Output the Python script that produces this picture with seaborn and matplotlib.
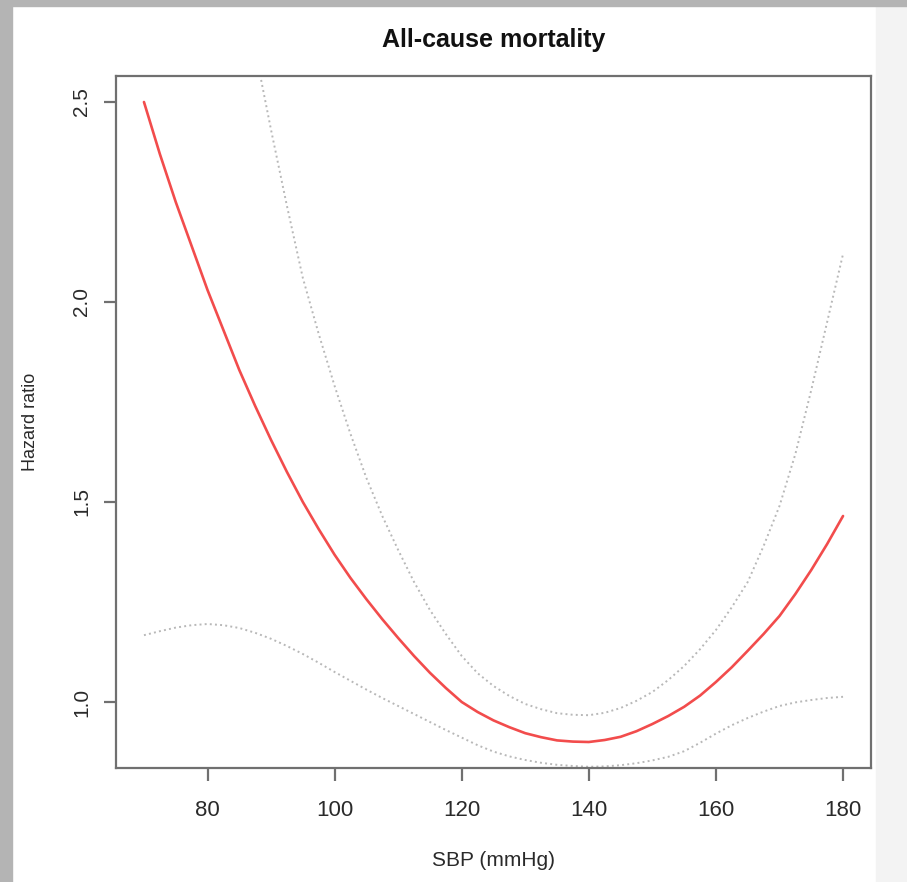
import numpy as np
import pandas as pd
import matplotlib
matplotlib.use("Agg")
import matplotlib.pyplot as plt
from matplotlib.patches import Rectangle
import seaborn as sns

# ---- data ----
sbp = [70, 72.5, 75, 77.5, 80, 82.5, 85, 87.5, 90, 92.5, 95, 97.5, 100, 102.5,
       105, 107.5, 110, 112.5, 115, 117.5, 120, 122.5, 125, 127.5, 130, 132.5,
       135, 137.5, 140, 142.5, 145, 147.5, 150, 152.5, 155, 157.5, 160, 162.5,
       165, 167.5, 170, 172.5, 175, 177.5, 180]
hr = [2.50, 2.37, 2.25, 2.14, 2.03, 1.93, 1.83, 1.74, 1.655, 1.575, 1.50, 1.432, 1.368, 1.31,
      1.257, 1.207, 1.16, 1.115, 1.073, 1.035, 1.00, 0.975, 0.954, 0.937, 0.922, 0.912,
      0.904, 0.901, 0.900, 0.905, 0.913, 0.927, 0.945, 0.965, 0.988, 1.016, 1.050, 1.087,
      1.128, 1.170, 1.215, 1.270, 1.330, 1.395, 1.465]
hr_upper = [4.20, 3.95, 3.70, 3.47, 3.25, 3.04, 2.84, 2.63, 2.43, 2.24, 2.06, 1.92, 1.79, 1.67,
            1.56, 1.465, 1.38, 1.30, 1.23, 1.17, 1.115, 1.072, 1.04, 1.015, 0.995, 0.982,
            0.972, 0.968, 0.967, 0.973, 0.985, 1.003, 1.025, 1.055, 1.09, 1.132, 1.18, 1.237,
            1.30, 1.39, 1.49, 1.62, 1.78, 1.95, 2.12]
hr_lower = [1.167, 1.177, 1.186, 1.192, 1.195, 1.192, 1.185, 1.173, 1.158, 1.14, 1.12, 1.098,
            1.075, 1.053, 1.031, 1.01, 0.99, 0.97, 0.95, 0.93, 0.911, 0.892, 0.876, 0.864,
            0.855, 0.848, 0.843, 0.840, 0.838, 0.839, 0.842, 0.847, 0.854, 0.863, 0.877,
            0.898, 0.921, 0.942, 0.96, 0.976, 0.99, 0.999, 1.005, 1.01, 1.013]
x_ticks = [80, 100, 120, 140, 160, 180]
y_ticks = [1.0, 1.5, 2.0, 2.5]
title = "All-cause mortality"
x_label = "SBP (mmHg)"
y_label = "Hazard ratio"

df = pd.DataFrame({"sbp": sbp, "hr": hr, "upper": hr_upper, "lower": hr_lower})

sns.set_style("white")
plt.rcParams["font.family"] = ["Liberation Sans", "DejaVu Sans"]

W, H = 907, 882
fig = plt.figure(figsize=(W / 100, H / 100), dpi=100, facecolor="white")

# background strips of the screenshot
fig.patches.append(Rectangle((876 / W, 0), 1 - 876 / W, 1, transform=fig.transFigure,
                             color="#f3f3f3", zorder=0))
fig.patches.append(Rectangle((0, 0), 12 / W, 1, transform=fig.transFigure,
                             color="#b4b4b4", zorder=0))
fig.patches.append(Rectangle((0, 1 - 6 / H), 1, 6 / H, transform=fig.transFigure,
                             color="#b4b4b4", zorder=0))

left, right, top, bottom = 116, 871, 76, 768
ax = fig.add_axes([left / W, 1 - bottom / H, (right - left) / W, (bottom - top) / H])
ax.set_facecolor("white")

sns.lineplot(data=df, x="sbp", y="upper", ax=ax, color="#b8b8b8", linestyle=":", linewidth=1.4)
sns.lineplot(data=df, x="sbp", y="lower", ax=ax, color="#b8b8b8", linestyle=":", linewidth=1.4)
sns.lineplot(data=df, x="sbp", y="hr", ax=ax, color="#f24c4c", linewidth=1.9)
for ln in ax.get_lines():
    ln.set_solid_joinstyle("round")

ax.set_xlim(65.6, 184.4)
ax.set_ylim(0.835, 2.565)
ax.set_xticks(x_ticks)
ax.set_yticks(y_ticks)
ax.set_xticklabels([str(v) for v in x_ticks])
ax.set_yticklabels([f"{v:.1f}" for v in y_ticks])

txt_color = "#2a2a2a"
spine_color = "#707070"
for s in ax.spines.values():
    s.set_color(spine_color)
    s.set_linewidth(1.6)
    s.set_visible(True)
ax.tick_params(axis="both", which="major", direction="out", length=9, width=1.6,
               color=spine_color, labelcolor=txt_color, bottom=True, left=True)
ax.tick_params(axis="x", pad=14, labelsize=16)
ax.tick_params(axis="y", pad=9, labelrotation=90, labelsize=15)
for lab in ax.get_yticklabels():
    lab.set_va("center")

ax.set_xlabel(x_label, fontsize=15, color=txt_color, labelpad=22)
ax.set_ylabel(y_label, fontsize=13, color=txt_color, labelpad=24)
ax.set_title(title, fontsize=18, fontweight="bold", color="#111111", pad=21)

fig.savefig("out.png", dpi=100, facecolor=fig.get_facecolor())
